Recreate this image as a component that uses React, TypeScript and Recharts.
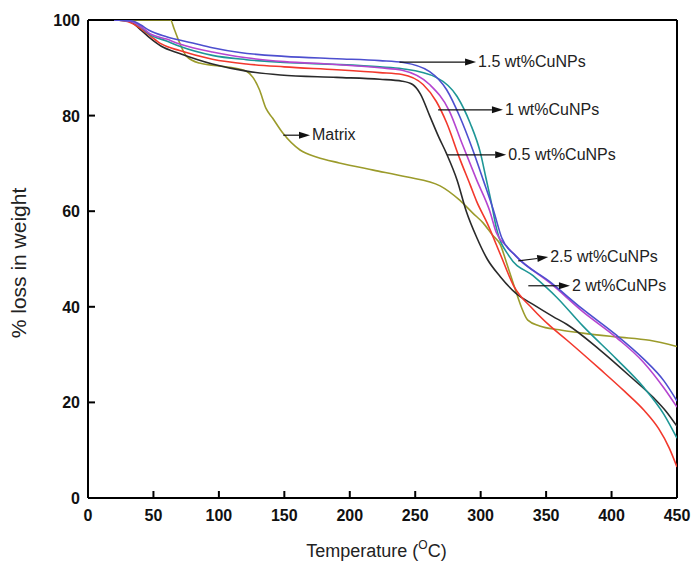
import React from 'react';
import { LineChart, Line, XAxis, YAxis, ReferenceLine } from 'recharts';

// [temperature °C, % weight]
const wt05: [number, number][] = [
  [20, 100], [32, 99.7], [40, 98], [47, 96.3], [56, 94.5], [70, 93], [95, 90.8], [121, 89.3],
  [147, 88.5], [190, 88], [223, 87.6], [240, 87.2], [248, 86.5], [254, 84.5], [261, 80], [268, 75.5],
  [274, 72], [282, 66.5], [289, 60], [297, 54.5], [305, 50], [315, 46.3], [327, 42.8], [340, 40.5],
  [355, 38], [366, 36.3], [391, 31], [416, 25], [432, 21], [442, 18], [450, 15],
];
const wt1: [number, number][] = [
  [20, 100], [30, 99.7], [37, 98.8], [47, 96.8], [56, 95], [70, 93.6], [95, 91.8], [121, 90.8],
  [150, 90.2], [190, 89.6], [223, 89], [240, 88.6], [256, 86.5], [266, 83], [274, 78.5], [284, 71],
  [292, 65.5], [297, 62], [305, 57.5], [315, 51], [325, 44.5], [340, 39.5], [353, 36], [366, 33],
  [391, 27], [410, 22.3], [425, 18.3], [436, 14.5], [444, 10.5], [450, 6.5],
];
const wt15: [number, number][] = [
  [20, 100], [34, 99.8], [40, 99], [47, 97.8], [60, 96.5], [80, 95.2], [95, 94.2], [116, 93.2],
  [150, 92.4], [190, 91.9], [223, 91.5], [241, 91.1], [261, 89.2], [274, 85.4], [284, 79.8],
  [294, 72.8], [302, 66.5], [310, 60], [316, 54.5], [327, 50.6], [353, 45.2], [378, 39.5],
  [404, 34], [424, 29.2], [440, 24.5], [450, 20.3],
];
const wt2: [number, number][] = [
  [20, 100], [33, 99.7], [40, 98.6], [47, 97], [60, 95.6], [70, 94.5], [95, 92.6], [121, 91.7],
  [150, 91.1], [190, 90.7], [223, 90.2], [240, 89.8], [266, 88], [282, 84], [292, 78.4], [300, 72],
  [304, 67], [308, 62], [312, 56.5], [322, 50.5], [340, 46.5], [358, 42], [378, 36], [404, 29],
  [424, 23.3], [440, 17.5], [450, 12.5],
];
const wt25: [number, number][] = [
  [20, 100], [33, 99.7], [40, 98.7], [47, 97.2], [60, 96], [70, 95], [95, 93.3], [121, 92.1],
  [150, 91.3], [190, 90.7], [223, 90], [240, 89.5], [261, 86.5], [276, 81], [286, 74], [297, 66.5],
  [307, 60], [312, 55.5], [320, 52.6], [330, 49.8], [353, 45], [378, 39], [404, 33.5], [424, 28.5],
  [440, 23], [450, 19],
];
const matrix: [number, number][] = [
  [20, 100], [63, 100], [66, 98], [70, 95.2], [75, 92.5], [85, 91], [108, 90.1], [121, 89.3],
  [126, 88], [131, 85.4], [136, 81.5], [141, 79.5], [149, 76.3], [162, 72.8], [175, 71.3],
  [192, 70.1], [218, 68.6], [243, 67.2], [269, 65.3], [284, 62.3], [294, 59.6], [302, 57.5],
  [309, 55], [315, 53], [320, 49], [326, 44], [331, 40], [336, 37.2], [345, 36], [360, 35.2],
  [378, 34.5], [404, 33.7], [429, 33], [450, 31.7],
];

const xTicks = [0, 50, 100, 150, 200, 250, 300, 350, 400, 450];
const yTicks = [0, 20, 40, 60, 80, 100];

const series = [
  { name: 'Matrix', color: '#9b9b2b', points: matrix },
  { name: '0.5 wt%CuNPs', color: '#2a2a2a', points: wt05 },
  { name: '1 wt%CuNPs', color: '#f2382c', points: wt1 },
  { name: '2 wt%CuNPs', color: '#1e9696', points: wt2 },
  { name: '2.5 wt%CuNPs', color: '#b545d0', points: wt25 },
  { name: '1.5 wt%CuNPs', color: '#4d4fcf', points: wt15 },
];

// arrow annotations: label, arrow tail [T, W], arrow tip [T, W]
const notes: { text: string; from: [number, number]; to: [number, number] }[] = [
  { text: '1.5 wt%CuNPs', from: [238, 91.2], to: [296.5, 91.2] },
  { text: '1 wt%CuNPs', from: [267.5, 81.2], to: [317, 81.2] },
  { text: '0.5 wt%CuNPs', from: [274.5, 71.8], to: [319.5, 71.8] },
  { text: '2.5 wt%CuNPs', from: [328.7, 49.6], to: [351.6, 50.4] },
  { text: '2 wt%CuNPs', from: [336.4, 44.4], to: [368.2, 44.4] },
  { text: 'Matrix', from: [149.2, 75.9], to: [169.6, 75.9] },
];

const FONT = '"Liberation Sans", Arial, Helvetica, sans-serif';

const XTick = (props: any) => {
  const { x, y, payload } = props;
  return (
    <g>
      <line x1={x} x2={x} y1={y - 6} y2={y - 13} stroke="#000" strokeWidth={2} />
      <text x={x} y={y + 17} textAnchor="middle" fontSize={16} fontWeight="bold" fontFamily={FONT} fill="#111">
        {payload.value}
      </text>
    </g>
  );
};

const YTick = (props: any) => {
  const { x, y, payload } = props;
  return (
    <g>
      <line x1={x + 8} x2={x + 15} y1={y} y2={y} stroke="#000" strokeWidth={2} />
      <text x={x} y={y + 6} textAnchor="end" fontSize={16} fontWeight="bold" fontFamily={FONT} fill="#111">
        {payload.value}
      </text>
    </g>
  );
};

const arrowShape = (text: string) => (p: any) => {
  const { x1, y1, x2, y2 } = p;
  const ang = Math.atan2(y2 - y1, x2 - x1);
  const len = 11;
  const hw = 3.5;
  const bx = x2 - len * Math.cos(ang);
  const by = y2 - len * Math.sin(ang);
  const px = -Math.sin(ang) * hw;
  const py = Math.cos(ang) * hw;
  return (
    <g>
      <line x1={x1} y1={y1} x2={bx} y2={by} stroke="#111" strokeWidth={1.2} />
      <polygon points={`${x2},${y2} ${bx + px},${by + py} ${bx - px},${by - py}`} fill="#111" />
      <text x={x2 + 2} y={y2 + 1} dominantBaseline="middle" fontSize={16} fontFamily={FONT} fill="#222">
        {text}
      </text>
    </g>
  );
};

export default function App() {
  return (
    <div style={{ position: 'absolute', left: 0, top: 0 }}>
      <LineChart width={693} height={566} margin={{ top: 20, right: 16, bottom: 0, left: 0 }}>
        <XAxis
          type="number"
          dataKey="t"
          domain={[0, 450]}
          ticks={xTicks}
          allowDataOverflow
          height={68}
          axisLine={{ stroke: '#000', strokeWidth: 2 }}
          tickLine={false}
          tickSize={0}
          tickMargin={6}
          tick={<XTick />}
          label={{
            content: (lp: any) => {
              const vb = lp.viewBox;
              return (
                <text x={vb.x + vb.width / 2 - 6} y={vb.y + 59} textAnchor="middle" fontSize={18} fontFamily={FONT} fill="#222">
                  Temperature (
                  <tspan fontSize={12} dy={-8}>O</tspan>
                  <tspan dy={8}>C)</tspan>
                </text>
              );
            },
          }}
        />
        <YAxis
          type="number"
          domain={[0, 100]}
          ticks={yTicks}
          allowDataOverflow
          width={88}
          axisLine={{ stroke: '#000', strokeWidth: 2 }}
          tickLine={false}
          tickSize={0}
          tickMargin={8}
          tick={<YTick />}
          label={{
            content: (lp: any) => {
              const vb = lp.viewBox;
              const cx = vb.x + 26;
              const cy = vb.y + vb.height / 2 + 4;
              return (
                <text x={cx} y={cy} transform={`rotate(-90 ${cx} ${cy})`} textAnchor="middle" fontSize={21} fontFamily={FONT} fill="#222">
                  % loss in weight
                </text>
              );
            },
          }}
        />
        <ReferenceLine y={100} stroke="#000" strokeWidth={2} />
        <ReferenceLine x={450} stroke="#000" strokeWidth={2} />
        {series.map((s) => (
          <Line
            key={s.name}
            name={s.name}
            data={s.points.map(([t, w]) => ({ t, w }))}
            dataKey="w"
            type="monotone"
            stroke={s.color}
            strokeWidth={1.6}
            dot={false}
            activeDot={false}
            isAnimationActive={false}
          />
        ))}
        {notes.map((n) => (
          <ReferenceLine
            key={n.text}
            segment={[
              { x: n.from[0], y: n.from[1] },
              { x: n.to[0], y: n.to[1] },
            ]}
            ifOverflow="visible"
            shape={arrowShape(n.text)}
          />
        ))}
      </LineChart>
    </div>
  );
}
